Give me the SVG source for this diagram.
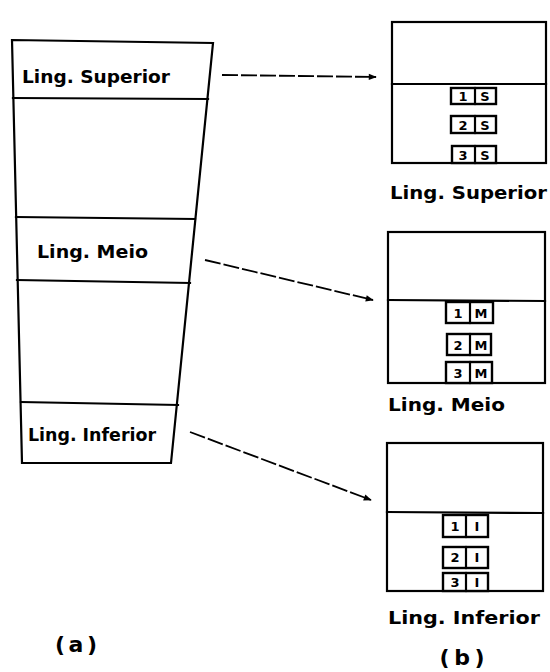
<svg xmlns="http://www.w3.org/2000/svg" width="550" height="672" viewBox="0 0 550 672">
<style>
.ln{fill:none;stroke:#000;stroke-width:2.2;stroke-linecap:square}
.cell{fill:#fff;stroke:#000;stroke-width:2.4}
.lbl{font-family:"DejaVu Sans",sans-serif;font-weight:bold;font-size:17px;fill:#000}
.rl{font-size:18px}
.ct{font-family:"DejaVu Sans",sans-serif;font-weight:bold;font-size:13px;fill:#000;text-anchor:middle}
.cap{font-family:"DejaVu Sans",sans-serif;font-weight:bold;font-size:22px;fill:#000;text-anchor:middle}
.conn{fill:none;stroke:#000;stroke-width:1.8;stroke-dasharray:16 3}
</style>
<defs>
<marker id="ah" viewBox="0 0 10 10" refX="9" refY="5" markerWidth="10" markerHeight="8" orient="auto" markerUnits="userSpaceOnUse">
<path d="M0,1 L10,5 L0,9 Z" fill="#000"/>
</marker>
</defs>
<g id="panel-a">
<path class="ln" d="M12,40 L213,43 L171,463 L22,463 Z"/>
<g id="a-superior">
<line class="ln" x1="13" y1="98" x2="208" y2="99"/>
<text class="lbl" x="22" y="83" textLength="148" lengthAdjust="spacingAndGlyphs">Ling. Superior</text>
</g>
<g id="a-meio">
<line class="ln" x1="16" y1="217" x2="195" y2="219"/>
<line class="ln" x1="17" y1="280" x2="190" y2="283"/>
<text class="lbl" x="37" y="258" textLength="111" lengthAdjust="spacingAndGlyphs">Ling. Meio</text>
</g>
<g id="a-inferior">
<line class="ln" x1="21" y1="402" x2="178" y2="405"/>
<text class="lbl" x="28" y="441" textLength="128" lengthAdjust="spacingAndGlyphs">Ling. Inferior</text>
</g>
<text class="cap" x="76" y="652" textLength="42" lengthAdjust="spacing">(a)</text>
</g>
<g id="connectors">
<line class="conn" x1="222" y1="75" x2="376" y2="77" marker-end="url(#ah)"/>
<line class="conn" x1="205" y1="260" x2="373" y2="300" marker-end="url(#ah)"/>
<line class="conn" x1="190" y1="432" x2="371" y2="500" marker-end="url(#ah)"/>
</g>
<g id="b-superior">
<rect class="ln" x="392" y="22" width="154" height="141"/>
<line class="ln" x1="392" y1="84" x2="546" y2="84"/>
<rect class="cell" x="451" y="88" width="45" height="16"/><line class="ln" x1="475" y1="88" x2="475" y2="104"/>
<text class="ct" x="463" y="101">1</text><text class="ct" x="485" y="101">S</text>
<rect class="cell" x="451" y="116" width="45" height="17"/><line class="ln" x1="475" y1="116" x2="475" y2="133"/>
<text class="ct" x="463" y="130">2</text><text class="ct" x="485" y="130">S</text>
<rect class="cell" x="452" y="146" width="44" height="17"/><line class="ln" x1="475" y1="146" x2="475" y2="163"/>
<text class="ct" x="463" y="160">3</text><text class="ct" x="485" y="160">S</text>
<text class="lbl rl" x="390" y="199" textLength="157" lengthAdjust="spacingAndGlyphs">Ling. Superior</text>
</g>
<g id="b-meio">
<rect class="ln" x="388" y="232" width="157" height="151"/>
<line class="ln" x1="388" y1="300" x2="545" y2="301"/>
<rect class="cell" x="446" y="302" width="47" height="21"/><line class="ln" x1="470" y1="302" x2="470" y2="323"/>
<text class="ct" x="458" y="318">1</text><text class="ct" x="481" y="318">M</text>
<rect class="cell" x="447" y="334" width="44" height="21"/><line class="ln" x1="470" y1="334" x2="470" y2="355"/>
<text class="ct" x="458" y="350">2</text><text class="ct" x="481" y="350">M</text>
<rect class="cell" x="446" y="362" width="46" height="21"/><line class="ln" x1="470" y1="362" x2="470" y2="383"/>
<text class="ct" x="458" y="378">3</text><text class="ct" x="481" y="378">M</text>
<text class="lbl rl" x="388" y="411" textLength="117" lengthAdjust="spacingAndGlyphs">Ling. Meio</text>
</g>
<g id="b-inferior">
<rect class="ln" x="387" y="443" width="156" height="148"/>
<line class="ln" x1="387" y1="512" x2="543" y2="513"/>
<rect class="cell" x="443" y="515" width="45" height="22"/><line class="ln" x1="466" y1="515" x2="466" y2="537"/>
<text class="ct" x="455" y="531">1</text><text class="ct" x="477" y="531">I</text>
<rect class="cell" x="443" y="547" width="45" height="21"/><line class="ln" x1="466" y1="547" x2="466" y2="568"/>
<text class="ct" x="455" y="562">2</text><text class="ct" x="477" y="562">I</text>
<rect class="cell" x="443" y="573" width="45" height="18"/><line class="ln" x1="466" y1="573" x2="466" y2="591"/>
<text class="ct" x="455" y="587">3</text><text class="ct" x="477" y="587">I</text>
<text class="lbl rl" x="388" y="624" textLength="152" lengthAdjust="spacingAndGlyphs">Ling. Inferior</text>
<text class="cap" x="462" y="665" textLength="45" lengthAdjust="spacing">(b)</text>
</g>
</svg>
